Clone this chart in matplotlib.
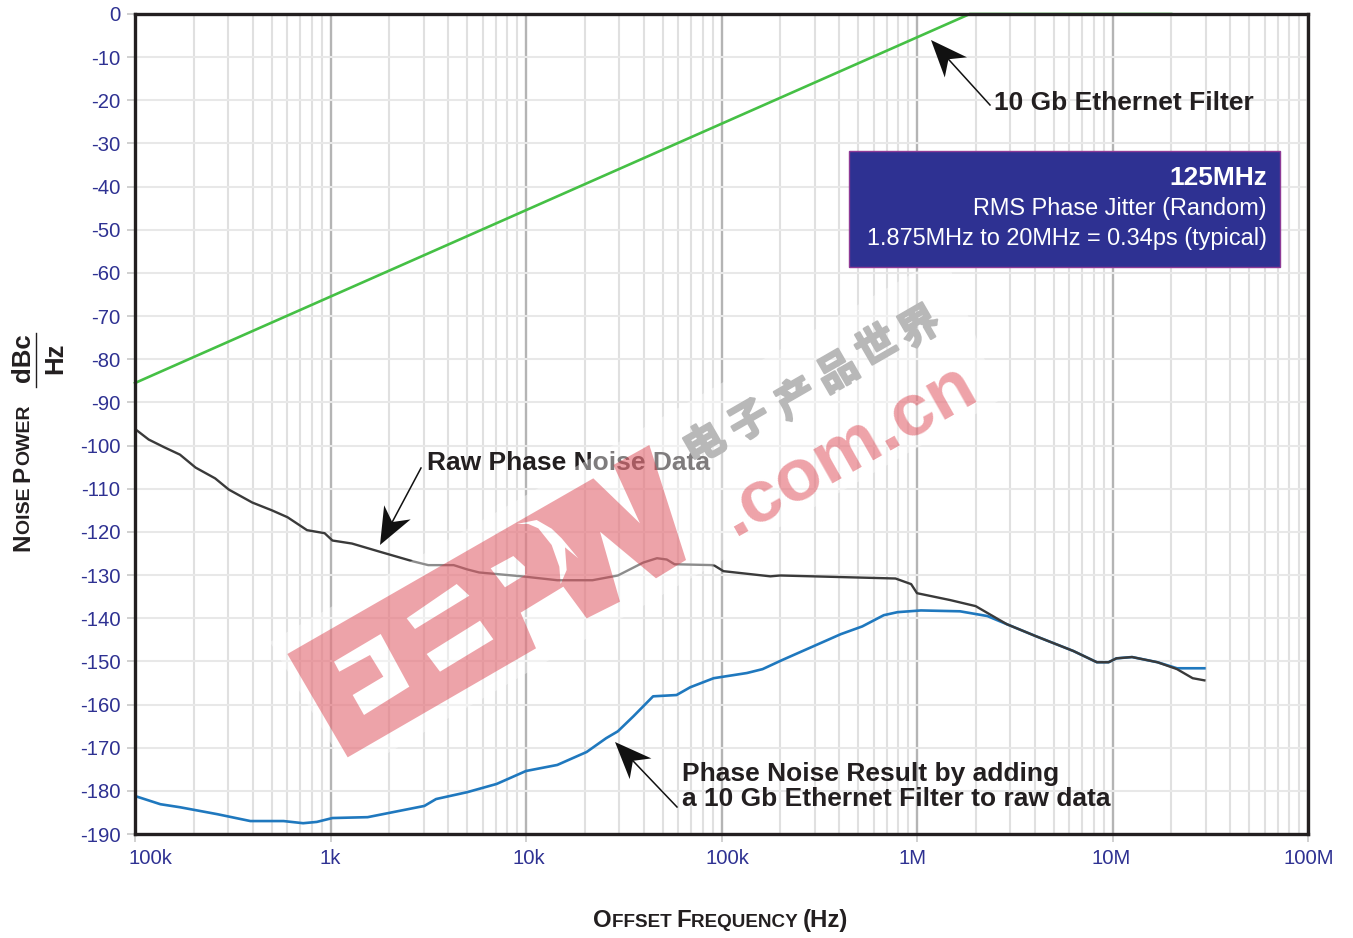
import numpy as np
import matplotlib
matplotlib.use("Agg")
import matplotlib.pyplot as plt
import matplotlib.ticker as mticker
import matplotlib.patheffects as pe
from matplotlib.patches import Polygon, PathPatch, Rectangle
from matplotlib.path import Path
from matplotlib.lines import Line2D
from matplotlib.transforms import Affine2D, ScaledTranslation

plt.rcParams['font.family'] = ['Liberation Sans', 'DejaVu Sans']

# ---- data (log10 of offset frequency in Hz, dBc/Hz) ----
filter_logf = [2.00, 6.27, 7.30]
filter_db = [-85.5, 0.0, 0.0]

raw_logf = [2.01, 2.07, 2.15, 2.23, 2.31, 2.41, 2.48, 2.60, 2.70, 2.78, 2.88, 2.97, 3.01,
            3.11, 3.26, 3.42, 3.50, 3.63, 3.70, 3.76, 3.98, 4.16, 4.34, 4.47, 4.60, 4.67,
            4.72, 4.76, 4.96, 5.01, 5.25, 5.30, 5.89, 5.97, 6.00, 6.17, 6.30, 6.46, 6.61,
            6.80, 6.92, 6.98, 7.02, 7.10, 7.23, 7.33, 7.41, 7.47]
raw_db = [-96.5, -98.6, -100.4, -102.1, -105.1, -107.6, -110.2, -113.2, -115.0, -116.6,
          -119.6, -120.3, -122.0, -122.7, -124.7, -126.8, -127.7, -127.7, -128.7, -129.4,
          -130.3, -131.2, -131.2, -130.1, -127.1, -126.1, -126.4, -127.5, -127.7, -129.1,
          -130.3, -130.1, -130.8, -132.1, -134.2, -135.8, -137.2, -141.4, -144.2, -147.6,
          -150.2, -150.2, -149.3, -149.0, -150.2, -151.8, -153.9, -154.4]

result_logf = [2.00, 2.13, 2.23, 2.42, 2.59, 2.76, 2.86, 2.93, 3.01, 3.19, 3.48, 3.54,
               3.70, 3.85, 4.00, 4.16, 4.31, 4.41, 4.47, 4.55, 4.65, 4.77, 4.84, 4.96,
               5.13, 5.21, 5.31, 5.47, 5.61, 5.72, 5.83, 5.90, 6.02, 6.22, 6.36, 6.46,
               6.61, 6.80, 6.92, 6.98, 7.02, 7.10, 7.23, 7.33, 7.47]
result_db = [-181.2, -183.1, -183.8, -185.4, -187.0, -187.0, -187.5, -187.2, -186.3,
             -186.1, -183.5, -181.9, -180.3, -178.4, -175.4, -174.0, -171.0, -167.8,
             -166.2, -162.7, -158.1, -157.8, -156.0, -153.9, -152.7, -151.8, -149.7,
             -146.5, -143.7, -141.9, -139.3, -138.6, -138.2, -138.4, -139.5, -141.4,
             -144.2, -147.6, -150.2, -150.2, -149.3, -149.0, -150.2, -151.6, -151.6]

x_ticks = [1e2, 1e3, 1e4, 1e5, 1e6, 1e7, 1e8]
x_labels = ['100k', '1k', '10k', '100k', '1M', '10M', '100M']
x_label_shift = [15, 0, 3, 6, -4, -1, 1]
y_ticks = list(range(0, -200, -10))

NAVY = '#2E3192'
INK = '#231F20'
RED = (0.85, 0.20, 0.25)

W, H = 1353, 938
fig = plt.figure(figsize=(W / 100, H / 100), dpi=100, facecolor='white')
L, R, T, B = 135, 1308, 14, 834
ax = fig.add_axes([L / W, 1 - B / H, (R - L) / W, (B - T) / H])
px = Affine2D().scale(1 / W, -1 / H).translate(0, 1) + fig.transFigure

ax.set_xscale('log')
ax.set_xlim(1e2, 1e8)
ax.set_ylim(-190, 0)

ax.plot(10 ** np.array(filter_logf), filter_db, color='#45C045', lw=1.9, zorder=3, clip_on=False,
        solid_joinstyle='round')
ax.plot(10 ** np.array(result_logf), result_db, color='#1F78BE', lw=1.9, zorder=3, solid_joinstyle='round')
ax.plot(10 ** np.array(raw_logf), raw_db, color='#3A3A3A', lw=1.7, zorder=4, solid_joinstyle='round')

ax.set_xticks(x_ticks)
ax.set_xticklabels(x_labels)
ax.set_yticks(y_ticks)
ax.set_yticklabels([str(v) for v in y_ticks])
ax.xaxis.set_minor_locator(mticker.LogLocator(base=10, subs=range(2, 10), numticks=20))
ax.xaxis.set_minor_formatter(mticker.NullFormatter())
ax.grid(True, which='major', axis='x', color='#B4B4B4', lw=1.7, zorder=1)
ax.grid(True, which='minor', axis='x', color='#E0E0E0', lw=1.5, zorder=1)
ax.grid(True, which='major', axis='y', color='#E8E8E8', lw=1.5, zorder=1)
ax.set_axisbelow(True)
ax.tick_params(axis='both', which='major', length=5.5, width=1.4, color='#D0D0D0',
               labelcolor=NAVY, labelsize=14.6)
ax.tick_params(axis='x', which='minor', length=0)
ax.tick_params(axis='x', which='major', pad=5)
ax.tick_params(axis='y', which='major', pad=5)
for lab, dx in zip(ax.get_xticklabels(), x_label_shift):
    lab.set_transform(lab.get_transform() + ScaledTranslation(dx / 100, 0, fig.dpi_scale_trans))
for s in ax.spines.values():
    s.set_linewidth(2.4)
    s.set_color('#231F20')
    s.set_zorder(6)


def arrow(x0, y0, x1, y1):
    """thin shaft from (x0,y0) to a notched black head with its tip at (x1,y1), pixels"""
    d = np.array([x0 - x1, y0 - y1], float)
    d /= np.hypot(*d)
    n = np.array([-d[1], d[0]])
    tip = np.array([x1, y1], float)
    ax.add_line(Line2D([x0, x1 + d[0] * 25], [y0, y1 + d[1] * 25], transform=px, color='#111111',
                       lw=1.1, clip_on=False, zorder=5))
    pts = [tip, tip + d * 37 + n * 15, tip + d * 26, tip + d * 37 - n * 15]
    ax.add_patch(Polygon(pts, closed=True, transform=px, fc='#111111', ec='none', clip_on=False, zorder=5))


arrow(990, 105, 931, 40)
arrow(421, 468, 380, 545)
arrow(677, 807, 615, 742)

bold = dict(transform=px, fontweight='bold', color=INK, fontsize=19, zorder=5, va='center', clip_on=False)
ax.text(994, 102.5, '10 Gb Ethernet Filter', **bold)
ax.text(427, 463.5, 'Raw Phase Noise Data', **bold)
ax.text(682, 773.5, 'Phase Noise Result by adding', **bold)
ax.text(682, 799.5, 'a 10 Gb Ethernet Filter to raw data', **bold)

# ---- axis titles set in small capitals ----
renderer = fig.canvas.get_renderer()


def chain(parts, x, y, vertical=False):
    for txt, size in parts:
        t = fig.text(0, 0, txt, fontsize=size, fontweight='bold', color=INK, transform=px,
                     rotation=90 if vertical else 0, ha='left', va='baseline',
                     rotation_mode='anchor')
        t.set_position((x, y))
        bb = t.get_window_extent(renderer)
        if vertical:
            y -= bb.height
        else:
            x += bb.width


chain([('O', 17.3), ('FFSET ', 13.6), ('F', 17.3), ('REQUENCY ', 13.6), ('(Hz)', 17.3)], 593, 927)
chain([('N', 17.5), ('OISE ', 14), ('P', 17.5), ('OWER', 14)], 29.5, 551, vertical=True)
fig.text(0, 0, 'dBc', transform=px, rotation=90, fontsize=18.5, fontweight='bold', color=INK,
         ha='center', va='baseline', rotation_mode='anchor').set_position((30, 358))
fig.text(0, 0, 'Hz', transform=px, rotation=90, fontsize=18.5, fontweight='bold', color=INK,
         ha='center', va='baseline', rotation_mode='anchor').set_position((62, 358))
fig.add_artist(Line2D([36, 36], [333, 387], transform=px, color=INK, lw=1.0))

# ---- watermark ----
fig.add_artist(Polygon([(270, 642), (350, 775), (1000, 400), (945, 255)], closed=True, transform=px,
                       fc='white', ec='none', alpha=0.42, zorder=5))


def zoom_pts(pts):
    return [(280 + a / 3, 430 + b / 3) for a, b in pts]


outer = zoom_pts([(22, 672), (203, 982), (768, 655), (722, 548), (850, 470), (920, 565), (1020, 515),
                  (960, 305), (1128, 445), (1218, 390), (1108, 45), (1000, 105), (1080, 280),
                  (940, 145)])
holes = [zoom_pts(h) for h in [
    [(632, 415), (700, 378), (735, 410), (735, 435), (675, 472)],
    [(380, 565), (530, 462), (568, 497), (405, 597)],
    [(440, 672), (600, 572), (640, 628), (480, 725)],
    [(162, 695), (302, 612), (388, 770), (252, 855), (218, 795), (310, 740), (270, 675), (178, 725)],
    [(710, 282), (770, 270), (815, 296), (845, 325), (895, 385), (855, 352), (860, 420), (842, 462),
     (838, 410), (815, 345), (775, 295), (745, 282)],
]]
verts, codes = [], []
for ring in [outer] + holes:
    verts += ring + [ring[0]]
    codes += [Path.MOVETO] + [Path.LINETO] * (len(ring) - 1) + [Path.CLOSEPOLY]
fig.add_artist(PathPatch(Path(verts, codes), transform=px, fc=RED, ec='none', alpha=0.45, zorder=6))

wm = fig.text(0, 0, '.com.cn', transform=px, rotation=29.5, rotation_mode='anchor', ha='center', va='center',
              fontsize=54, fontweight='bold', color=RED, alpha=0.45, zorder=6)
wm.set_position((848, 450))
cn_chars = ['电', '子', '产', '品', '世', '界']
cn_x = [705, 750, 797, 838, 877, 920]
cn_y = [445, 422, 400, 373, 347, 328]
for ch, cx, cy in zip(cn_chars, cn_x, cn_y):
    t = fig.text(0, 0, ch, transform=px, rotation=30, rotation_mode='anchor', ha='center', va='center',
                 fontsize=29, fontweight='bold', color='#B8B8B8', zorder=6,
                 family=['Noto Sans CJK SC', 'DejaVu Sans'],
                 path_effects=[pe.withStroke(linewidth=1.6, foreground='#B8B8B8')])
    t.set_position((cx, cy))

# ---- info box ----
fig.add_artist(Rectangle((848.5, 151), 431.5, 116, transform=px, fc=NAVY, ec='#8E3A96', lw=1.0, zorder=8))
box = dict(transform=px, color='white', ha='right', va='center', zorder=9)
fig.text(0, 0, '125MHz', fontweight='bold', fontsize=19, **box).set_position((1267, 178))
fig.text(0, 0, 'RMS Phase Jitter (Random)', fontsize=16.9, **box).set_position((1267, 209))
fig.text(0, 0, '1.875MHz to 20MHz = 0.34ps (typical)', fontsize=16.9, **box).set_position((1267, 238))

fig.savefig('out.png', dpi=100)
